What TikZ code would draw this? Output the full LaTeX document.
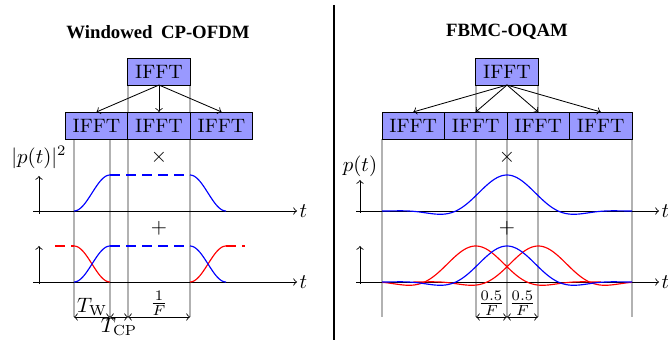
\documentclass[tikz,border=0pt]{standalone}
\usepackage{fontspec}
\usepackage{amsmath}
\newfontfamily\titlefont{Liberation Serif}
\usetikzlibrary{positioning}

\tikzset{
  ifft/.style={draw, fill=blue!40, minimum width=30pt, minimum height=13pt,
    inner sep=0pt, outer sep=0pt, font=\fontsize{9.3}{11}\selectfont},
  guide/.style={gray!60, thick},
  heading/.style={font=\fontsize{9}{11}\selectfont\titlefont\bfseries},
  dashline/.style={dash pattern=on 4.8pt off 2.9pt},
  axlabel/.style={inner sep=1pt},
  pulse/.style={line width=0.55pt},
}

\begin{document}
\begin{tikzpicture}[x=0.48pt, y=-0.48pt, >=to,
  declare function={phy(\z)=(1+2*(0.97196*cos(1.44*\z)+0.70711*cos(2.88*\z)+0.23515*cos(4.32*\z)))/4.82843;}]
\useasboundingbox (0,0) rectangle (668,343);

% titles and separator
\node[heading] (titleL) at (158,32) {Windowed\hspace{0.45em}CP-OFDM};
\node[heading] (titleR) at (507,32) {FBMC-OQAM};
\draw[very thick] (334,5) -- (334,340);

% ---------------- windowed CP-OFDM ----------------
\foreach \x in {74,110} \draw[guide] (\x,139) -- (\x,317);
\foreach \x in {128,190} \draw[guide] (\x,85) -- (\x,317);

\node[ifft] (topL) at (159,71.5) {IFFT};
\node[ifft] (l2) at (159,125.5) {IFFT};
\node[ifft, left=0pt of l2] (l1) {IFFT};
\node[ifft, right=0pt of l2] (l3) {IFFT};
\foreach \n in {l1,l2,l3} \draw[->] (topL.south) -- (\n.north);

% window
\draw[->] (33,211) -- (297,211) node[right, axlabel] (tL1) {$t$};
\draw[->] (39,214) -- (39,176) node[above] (pL) {$|p(t)|^2$};
\draw[blue, pulse, domain=0:1, samples=30] plot ({74+36*\x},{211-36*(sin(90*\x))^2});
\draw[blue, pulse, dashline] (110,175) -- (190,175);
\draw[blue, pulse, domain=0:1, samples=30] plot ({190+36*\x},{175+36*(sin(90*\x))^2});
\node (timesL) at (159,157) {$\times$};

% overlapping windows
\draw[->] (33,282) -- (297,282) node[right, axlabel] (tL2) {$t$};
\draw[->] (39,284) -- (39,246);
\draw[red, pulse, dashline] (55,246) -- (74,246);
\draw[red, pulse, domain=0:1, samples=30] plot ({74+36*\x},{246+36*(sin(90*\x))^2});
\draw[red, pulse, domain=0:1, samples=30] plot ({190+36*\x},{282-36*(sin(90*\x))^2});
\draw[red, pulse, dashline] (226,246) -- (245,246);
\draw[blue, pulse, domain=0:1, samples=30] plot ({74+36*\x},{282-36*(sin(90*\x))^2});
\draw[blue, pulse, dashline] (110,246) -- (190,246);
\draw[blue, pulse, domain=0:1, samples=30] plot ({190+36*\x},{246+36*(sin(90*\x))^2});
\node (plusL) at (159,228) {$+$};

% durations
\draw[<->] (74,317) -- node[above, inner sep=0.5pt] (tw) {$T_{\mathrm{W}}$} (110,317);
\draw[<->] (110,317) -- node[below, inner sep=0.5pt] (tcp) {$T_{\mathrm{CP}}$} (128,317);
\draw[<->] (128,317) -- node[above, inner sep=0.5pt] (per) {$\frac{1}{F}$} (190,317);

% ---------------- FBMC-OQAM ----------------
\foreach \x in {382,507,632} \draw[guide] (\x,139) -- (\x,317);
\foreach \x in {476,538} \draw[guide] (\x,85) -- (\x,317);

\node[ifft] (topR) at (507,71.5) {IFFT};
\node[ifft] (r2) at (475.75,125.5) {IFFT};
\node[ifft, left=0pt of r2] (r1) {IFFT};
\node[ifft, right=0pt of r2] (r3) {IFFT};
\node[ifft, right=0pt of r3] (r4) {IFFT};
\foreach \n in {r1,r2,r3,r4} \draw[->] (topR.south) -- (\n.north);

% prototype filter
\draw[->] (356,211) -- (659,211) node[right, axlabel] (tR1) {$t$};
\draw[->] (360,213) -- (360,180) node[above, inner sep=1.5pt] (pR) {$p(t)$};
\draw[blue, pulse, domain=-125:125, samples=120] plot ({507+\x},{211-36*phy(\x)});
\node (timesR) at (507,157) {$\times$};

% overlapping pulses
\draw[->] (356,282) -- (659,282) node[right, axlabel] (tR2) {$t$};
\draw[->] (360,284) -- (360,246);
\draw[red, pulse, domain=-93.75:125, samples=110] plot ({475.75+\x},{282-36*phy(\x)});
\draw[red, pulse, domain=-125:93.75, samples=110] plot ({538.25+\x},{282-36*phy(\x)});
\draw[blue, pulse, domain=-125:125, samples=120] plot ({507+\x},{282-36*phy(\x)});
\node (plusR) at (507,228) {$+$};

% spacing
\draw[<->] (476,317) -- node[above, inner sep=0.5pt] (hl) {$\frac{0.5}{F}$} (507,317);
\draw[<->] (507,317) -- node[above, inner sep=0.5pt] (hr) {$\frac{0.5}{F}$} (538,317);
\end{tikzpicture}
\end{document}
